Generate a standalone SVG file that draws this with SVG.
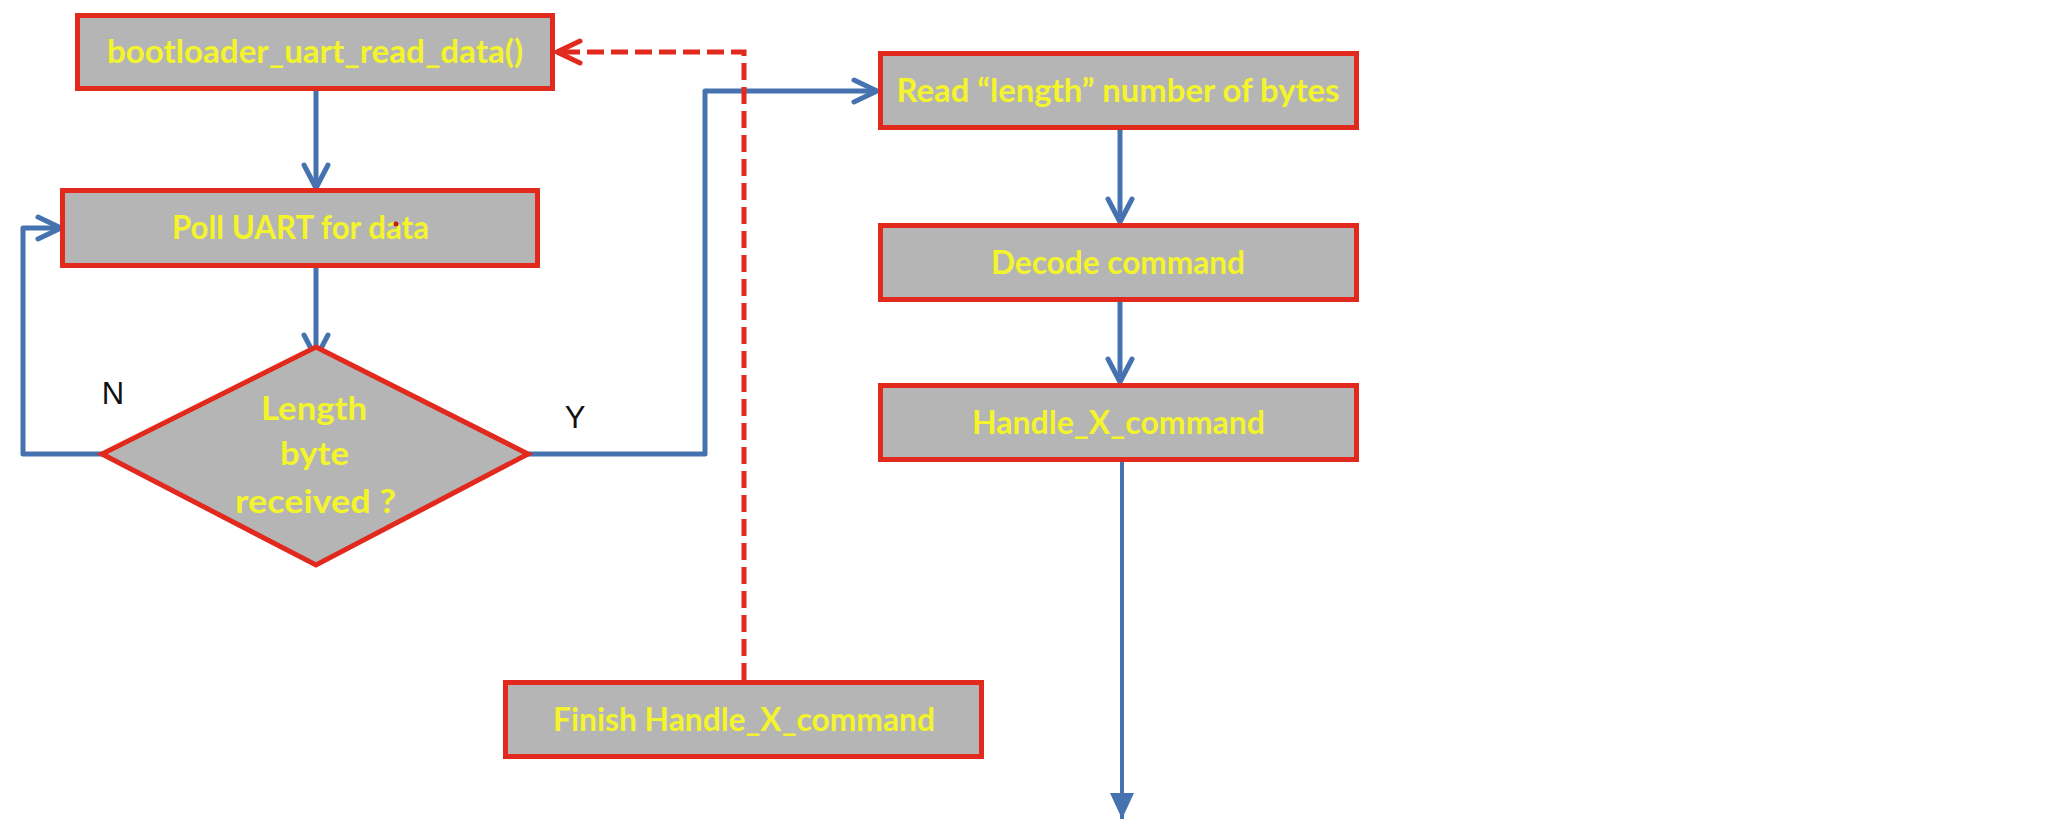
<svg xmlns="http://www.w3.org/2000/svg" width="2062" height="822" viewBox="0 0 2062 822">
<style>
.box{fill:#b5b5b5;stroke:#e2291d;stroke-width:5}
.lbl{font-family:Lato,"Liberation Sans",sans-serif;font-weight:bold;font-size:32px;fill:#f4f42c;text-anchor:middle}
.yn{font-family:"Liberation Sans",Arial,sans-serif;font-size:31px;fill:#111;text-anchor:middle}
.flow{fill:none;stroke:#4673b0;stroke-width:5;stroke-linejoin:round}
.head{fill:none;stroke:#4673b0;stroke-width:5;stroke-linecap:round;stroke-linejoin:round}
.ret{fill:none;stroke:#e2291d;stroke-width:5;stroke-dasharray:17 7}
</style>
<defs>
<marker id="triB" markerUnits="userSpaceOnUse" viewBox="-26 -13 28 26" refX="0" refY="0" markerWidth="28" markerHeight="26" orient="auto" overflow="visible">
<path d="M-26,-12 L0,0 L-26,12 Z" fill="#4673b0"/>
</marker>
</defs>
<rect width="2062" height="822" fill="#ffffff"/>

<g id="connectors">
<path class="flow" d="M316,91 L316,187"/>
<path class="flow" d="M316,268 L316,358"/>
<path class="flow" d="M102,454 L23,454 L23,228 L61,228"/>
<path class="flow" d="M528,454 L705,454 L705,91 L877,91"/>
<path class="flow" d="M1120,130 L1120,222"/>
<path class="flow" d="M1120,302 L1120,382"/>
<path class="flow" style="stroke-width:4" d="M1122,462 L1122,819" marker-end="url(#triB)"/>
<path class="ret" d="M744,680 L744,52 L557,52"/>
<path class="head" d="M304,165 L316,188 L328,165"/>
<path class="head" d="M304,335 L316,358 L328,335"/>
<path class="head" d="M38,217 L61,228 L38,239"/>
<path class="head" d="M854,80 L877,91 L854,102"/>
<path class="head" d="M1108,199 L1120,222 L1132,199"/>
<path class="head" d="M1108,359 L1120,382 L1132,359"/>
<path class="head" style="stroke:#e2291d" d="M580,41 L557,52 L580,63"/>
</g>

<g id="n-bootloader">
<rect class="box" x="77.5" y="15.5" width="475" height="73"/>
<text class="lbl" x="315" y="63" textLength="416" lengthAdjust="spacingAndGlyphs">bootloader_uart_read_data()</text>
</g>
<g id="n-poll">
<rect class="box" x="62.5" y="190.5" width="475" height="75"/>
<text class="lbl" x="300.5" y="239" textLength="257" lengthAdjust="spacingAndGlyphs">Poll UART for data</text>
<circle cx="396" cy="224" r="2.5" fill="#c0201a"/>
</g>
<g id="n-decision">
<polygon class="box" points="316,347 528,454 316,565 102,454"/>
<text class="lbl" x="314" y="420" textLength="106" lengthAdjust="spacingAndGlyphs">Length</text>
<text class="lbl" x="314.5" y="465" textLength="69" lengthAdjust="spacingAndGlyphs">byte</text>
<text class="lbl" x="315.5" y="513" textLength="161" lengthAdjust="spacingAndGlyphs">received ?</text>
</g>
<g id="labels">
<text class="yn" x="113" y="404">N</text>
<text class="yn" x="575" y="428">Y</text>
</g>
<g id="n-read">
<rect class="box" x="880.5" y="53.5" width="476" height="74"/>
<text class="lbl" x="1118" y="102" textLength="443" lengthAdjust="spacingAndGlyphs">Read “length” number of bytes</text>
</g>
<g id="n-decode">
<rect class="box" x="880.5" y="225.5" width="476" height="74"/>
<text class="lbl" x="1118" y="274" textLength="254" lengthAdjust="spacingAndGlyphs">Decode command</text>
</g>
<g id="n-handle">
<rect class="box" x="880.5" y="385.5" width="476" height="74"/>
<text class="lbl" x="1118.5" y="434" textLength="293" lengthAdjust="spacingAndGlyphs">Handle_X_command</text>
</g>
<g id="n-finish">
<rect class="box" x="505.5" y="682.5" width="476" height="74"/>
<text class="lbl" x="744" y="731" textLength="382" lengthAdjust="spacingAndGlyphs">Finish Handle_X_command</text>
</g>
</svg>
